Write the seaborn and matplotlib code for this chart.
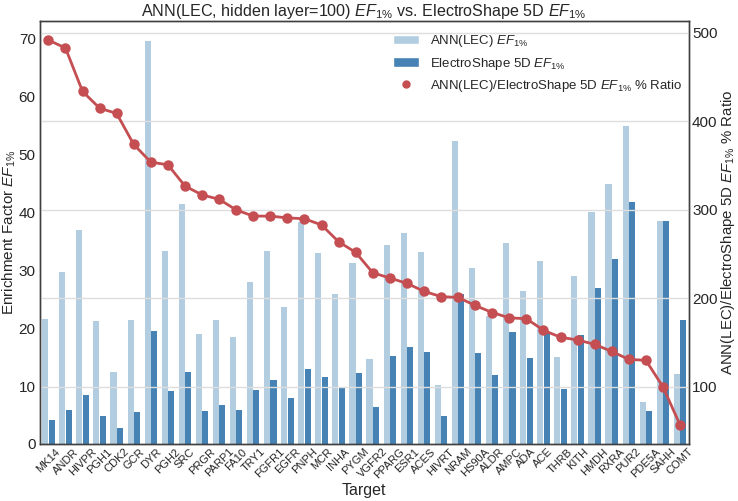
import matplotlib
matplotlib.use("Agg")
import matplotlib.pyplot as plt
import seaborn as sns
import pandas as pd
from matplotlib.lines import Line2D
from matplotlib.patches import Patch

targets = ["MK14", "ANDR", "HIVPR", "PGH1", "CDK2", "GCR", "DYR", "PGH2", "SRC", "PRGR",
           "PARP1", "FA10", "TRY1", "FGFR1", "EGFR", "PNPH", "MCR", "INHA", "PYGM", "VGFR2",
           "PPARG", "ESR1", "ACES", "HIVRT", "NRAM", "HS90A", "ALDR", "AMPC", "ADA", "ACE",
           "THRB", "KITH", "HMDH", "RXRA", "PUR2", "PDE5A", "SAHH", "COMT"]

ann_ef = [21.6, 29.7, 37.0, 21.3, 12.5, 21.4, 69.6, 33.3, 41.4, 19.0,
          21.4, 18.5, 28.0, 33.3, 23.7, 38.4, 33.0, 25.9, 31.3, 14.6,
          34.3, 36.4, 33.1, 10.1, 52.4, 30.4, 22.1, 34.8, 26.5, 31.7,
          15.0, 29.0, 40.1, 44.9, 55.0, 7.3, 38.6, 12.1]

es_ef = [4.2, 5.9, 8.4, 4.9, 2.8, 5.5, 19.5, 9.2, 12.5, 5.7,
         6.7, 5.9, 9.3, 11.1, 7.9, 13.0, 11.5, 9.6, 12.2, 6.3,
         15.2, 16.7, 15.8, 4.9, 25.9, 15.7, 11.9, 19.4, 14.8, 19.2,
         9.5, 18.8, 26.9, 32.0, 41.8, 5.6, 38.5, 21.4]

ratio = [492, 483, 434, 415, 409, 374, 354, 351, 327, 317,
         312, 300, 293, 293, 291, 290, 283, 264, 252, 229,
         223, 217, 208, 202, 201, 192, 184, 178, 177, 164,
         156, 153, 148, 140, 131, 130, 100, 57]

ann_label = r"ANN(LEC) $EF_{1\%}$"
es_label = r"ElectroShape 5D $EF_{1\%}$"
ratio_label = r"ANN(LEC)/ElectroShape 5D $EF_{1\%}$ % Ratio"

light = "#b3cde0"
dark = "#4682b4"
red = "#c44e52"

sns.set_style("whitegrid")
plt.rcParams["font.family"] = ["Liberation Sans", "DejaVu Sans"]
plt.rcParams["mathtext.fontset"] = "custom"
plt.rcParams["mathtext.it"] = "Liberation Sans:italic"
plt.rcParams["mathtext.rm"] = "Liberation Sans"
plt.rcParams["axes.edgecolor"] = "0.25"
plt.rcParams["axes.linewidth"] = 1.0

df = pd.DataFrame({
    "Target": targets * 2,
    "EF": ann_ef + es_ef,
    "Method": [ann_label] * len(targets) + [es_label] * len(targets),
})

fig = plt.figure(figsize=(7.38, 5.01), dpi=100)
ax = fig.add_axes([0.054, 0.114, 0.879, 0.844])

sns.barplot(data=df, x="Target", y="EF", hue="Method", palette=[light, dark],
            width=0.75, gap=0.05, saturation=1, ax=ax, legend=False)
for p in ax.patches:
    p.set_edgecolor("none")
    p.set_linewidth(0)
ax.grid(False)
ax.set_ylim(0, 73.1)
ax.set_yticks(range(0, 71, 10))
ax.set_ylabel(r"Enrichment Factor $EF_{1\%}$", fontsize=11, labelpad=0.5)
ax.set_xlabel("Target", fontsize=11.5, labelpad=2)
ax.tick_params(axis="y", labelsize=11, length=0, pad=3)
ax.tick_params(axis="x", labelsize=8, length=0, pad=2)
for lab in ax.get_xticklabels():
    lab.set_rotation(45)
    lab.set_ha("center")

ax2 = ax.twinx()
sns.pointplot(x=targets, y=ratio, ax=ax2, color=red, markers="o",
              markersize=6, linewidth=2)
ax2.set_ylim(35.5, 513.5)
ax2.set_yticks([100, 200, 300, 400, 500])
ax2.grid(True, axis="y", color="0.87", linewidth=1)
ax2.grid(False, axis="x")
ax2.set_ylabel(ratio_label, fontsize=10.8, labelpad=1)
ax2.tick_params(axis="y", labelsize=11, length=0, pad=2.5)
for sp in ax2.spines.values():
    sp.set_edgecolor("0.25")

ax.set_title(r"ANN(LEC, hidden layer=100) $EF_{1\%}$ vs. ElectroShape 5D $EF_{1\%}$",
             fontsize=11.6, pad=1)

handles = [Patch(facecolor=light, label=ann_label),
           Patch(facecolor=dark, label=es_label),
           Line2D([], [], marker="o", linestyle="none", color=red,
                  markersize=5, label=ratio_label)]
ax.legend(handles=handles, loc="upper right", bbox_to_anchor=(1.008, 1.0),
          frameon=False, fontsize=9.5, handlelength=2.0, labelspacing=0.5)

fig.savefig("out.png", dpi=100)
